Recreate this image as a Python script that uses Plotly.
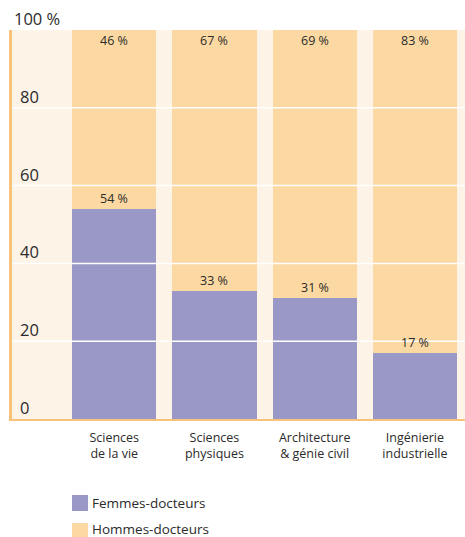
import plotly.graph_objects as go

categories = ["Sciences<br>de la vie", "Sciences<br>physiques", "Architecture<br>& génie civil", "Ingénierie<br>industrielle"]
femmes = [54, 33, 31, 17]
hommes = [46, 67, 69, 83]
ytick_vals = [0, 20, 40, 60, 80, 100]
ytick_text = ["0", "20", "40", "60", "80", "100 %"]
legend_names = ["Femmes-docteurs", "Hommes-docteurs"]

C_F = "#9A98C7"
C_H = "#FCD9A2"
BG = "#FDF3E7"
AX = "#F9C27A"
TXT = "#2b2b2b"
FONT = "Open Sans"

x = list(range(len(categories)))
fig = go.Figure()
fig.add_bar(x=x, y=femmes, marker_color=C_F, marker_line_width=0, width=0.84, name=legend_names[0], showlegend=False)
fig.add_bar(x=x, y=hommes, base=femmes, marker_color=C_H, marker_line_width=0, width=0.84, name=legend_names[1], showlegend=False)

ann = []
for i, (f, h) in enumerate(zip(femmes, hommes)):
    ann.append(dict(x=i, y=f, text=f"{f} %", showarrow=False, yanchor="bottom", yshift=0,
                    font=dict(size=12.5, color=TXT, family=FONT)))
    ann.append(dict(x=i, y=100, text=f"{h} %", showarrow=False, yanchor="top", yshift=0,
                    font=dict(size=12.5, color=TXT, family=FONT)))
for v, t in zip(ytick_vals, ytick_text):
    ann.append(dict(xref="paper", x=0.0 if v == 100 else 0.014, y=v, text=t, showarrow=False,
                    xanchor="left", yanchor="bottom", yshift=-2,
                    font=dict(size=16.5, color=TXT, family=FONT)))

shapes = []
for v in ytick_vals[1:-1]:
    shapes.append(dict(type="line", xref="paper", x0=0, x1=1, y0=v, y1=v,
                       line=dict(color="white", width=1.5), layer="above"))

# legend (manual)
for k, (name, col) in enumerate(zip(legend_names, [C_F, C_H])):
    y0 = 495 + k * 28
    shapes.append(dict(type="rect", xref="paper", yref="paper",
                       x0=(72 - 12) / 453, x1=(88 - 12) / 453,
                       y0=(419 - y0) / 389, y1=(419 - y0 - 16) / 389,
                       fillcolor=col, line_width=0))
    ann.append(dict(xref="paper", yref="paper", x=(91 - 12) / 453, y=(419 - y0 - 8 + 2 * k) / 389,
                    text=name, showarrow=False, xanchor="left", yanchor="middle", borderpad=0,
                    font=dict(size=13.5, color=TXT, family=FONT)))

fig.update_layout(
    width=465, height=537,
    margin=dict(l=12, r=0, t=30, b=118),
    paper_bgcolor="white", plot_bgcolor=BG,
    barmode="overlay", bargap=0,
    annotations=ann, shapes=shapes,
    font=dict(family=FONT, color=TXT),
)
fig.update_xaxes(range=[-1.02, 3.5], tickvals=x, ticktext=categories, showgrid=False,
                 showline=True, linecolor=AX, linewidth=2, ticks="", ticklabelstandoff=6,
                 tickfont=dict(size=12.5, color=TXT, family=FONT), fixedrange=True)
fig.update_yaxes(range=[0, 100], showgrid=False, showticklabels=False, zeroline=False,
                 showline=True, linecolor=AX, linewidth=2.5, ticks="", fixedrange=True)

fig.write_html("out.html")
